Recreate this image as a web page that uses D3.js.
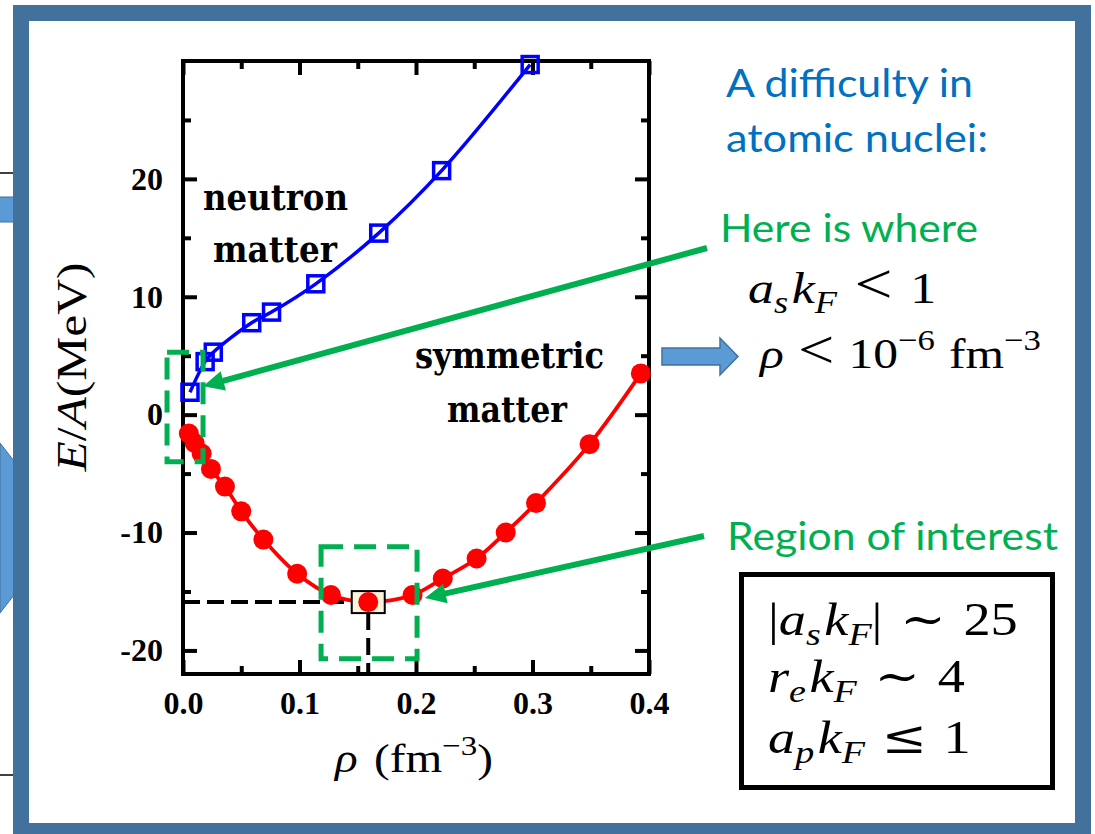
<!DOCTYPE html>
<html>
<head>
<meta charset="utf-8">
<script src="https://cdn.jsdelivr.net/npm/d3@7"></script>
<style>
body { margin: 0; background: #fff; }
svg { display: block; }
</style>
</head>
<body>
<svg id="fig" width="1095" height="834"></svg>
<script>
// Values
var neutronRho = [0.006, 0.019, 0.026, 0.059, 0.076, 0.114, 0.168, 0.222, 0.298]; // fm^-3
var neutronE = [1.9, 4.5, 5.3, 7.8, 8.7, 11.1, 15.4, 20.7, 29.7]; // MeV
var symRho = [0.005, 0.010, 0.016, 0.024, 0.036, 0.050, 0.069, 0.098, 0.127, 0.159, 0.197, 0.223, 0.252, 0.277, 0.303, 0.349, 0.393];
var symE = [-1.6, -2.4, -3.3, -4.6, -6.1, -8.2, -10.6, -13.5, -15.3, -15.9, -15.3, -13.9, -12.2, -10.0, -7.5, -2.5, 3.5];
var satRho = 0.159, satE = -15.9; // saturation point

var xMajor = [0, 0.1, 0.2, 0.3, 0.4];
var xMinor = [0.05, 0.15, 0.25, 0.35];
var yMajor = [-20, -10, 0, 10, 20];
var yMinor = [-15, -5, 5, 15, 25];

// dashed green boxes (data space): [rho0, rho1, E0, E1]
var lowBox = [-0.0137, 0.0172, -4.0, 5.3];
var roiBox = [0.1185, 0.2009, -20.7, -11.2];

var green = "#00B050";
var svg = d3.select("#fig");

var pLeft = 183, pRight = 649, pTop = 61, pBottom = 674;
var x = d3.scaleLinear().domain([0, 0.4]).range([pLeft, pRight]);
var y = d3.scaleLinear().domain([-22, 30]).range([pBottom, pTop]);

/* ******** bits of the slide behind the frame ******** */
svg.append("line").attr("x1", 0).attr("y1", 173).attr("x2", 13).attr("y2", 173)
  .attr("stroke", "#000").attr("stroke-width", 1.5);
svg.append("rect").attr("x", -2).attr("y", 197).attr("width", 16).attr("height", 25)
  .attr("fill", "#5B9BD5").attr("stroke", "#41719C").attr("stroke-width", 1);
svg.append("polygon").attr("points", "0,443 14,461 14,595 0,613")
  .attr("fill", "#5B9BD5").attr("stroke", "#41719C").attr("stroke-width", 1);
svg.append("line").attr("x1", 0).attr("y1", 775).attr("x2", 13).attr("y2", 775)
  .attr("stroke", "#000").attr("stroke-width", 1.5);

// slide frame
svg.append("rect").attr("x", 21).attr("y", 13).attr("width", 1062).attr("height", 818)
  .attr("fill", "none").attr("stroke", "#41719C").attr("stroke-width", 16);

/* ******** axes ******** */
function styleAxis(g) {
  g.select(".domain").remove();
  g.selectAll(".tick line").attr("stroke", "#000").attr("stroke-width", 4);
  g.selectAll("text").attr("font-family", "Liberation Serif").attr("font-weight", "bold")
    .attr("font-size", 32).attr("fill", "#000");
  return g;
}
svg.append("g").attr("transform", "translate(0," + pBottom + ")")
  .call(d3.axisBottom(x).tickValues(xMajor).tickSize(-14).tickPadding(17).tickFormat(d3.format(".1f")))
  .call(styleAxis);
svg.append("g").attr("transform", "translate(0," + pBottom + ")")
  .call(d3.axisBottom(x).tickValues(xMinor).tickSize(-8).tickFormat("")).call(styleAxis);
svg.append("g").attr("transform", "translate(0," + pTop + ")")
  .call(d3.axisTop(x).tickValues(xMajor).tickSize(-14).tickFormat("")).call(styleAxis);
svg.append("g").attr("transform", "translate(0," + pTop + ")")
  .call(d3.axisTop(x).tickValues(xMinor).tickSize(-8).tickFormat("")).call(styleAxis);
svg.append("g").attr("transform", "translate(" + pLeft + ",0)")
  .call(d3.axisLeft(y).tickValues(yMajor).tickSize(-14).tickPadding(20).tickFormat(function(d){ return String(d); }))
  .call(styleAxis);
svg.append("g").attr("transform", "translate(" + pLeft + ",0)")
  .call(d3.axisLeft(y).tickValues(yMinor).tickSize(-8).tickFormat("")).call(styleAxis);
svg.append("g").attr("transform", "translate(" + pRight + ",0)")
  .call(d3.axisRight(y).tickValues(yMajor).tickSize(-14).tickFormat("")).call(styleAxis);
svg.append("g").attr("transform", "translate(" + pRight + ",0)")
  .call(d3.axisRight(y).tickValues(yMinor).tickSize(-8).tickFormat("")).call(styleAxis);

svg.append("rect").attr("x", pLeft).attr("y", pTop).attr("width", pRight - pLeft).attr("height", pBottom - pTop)
  .attr("fill", "none").attr("stroke", "#000").attr("stroke-width", 4);

/* ******** data ******** */
var neutron = neutronRho.map(function(r, i){ return {x: r, y: neutronE[i]}; });
var sym = symRho.map(function(r, i){ return {x: r, y: symE[i]}; });
var line = d3.line().x(function(d){ return x(d.x); }).y(function(d){ return y(d.y); })
  .curve(d3.curveCatmullRom.alpha(0.5));

// saturation guides
svg.append("line").attr("x1", x(0)).attr("x2", x(satRho) - 17).attr("y1", y(satE)).attr("y2", y(satE))
  .attr("stroke", "#000").attr("stroke-width", 4).attr("stroke-dasharray", "17,7");
svg.append("line").attr("x1", x(satRho)).attr("x2", x(satRho)).attr("y1", y(satE) + 11).attr("y2", y(-22))
  .attr("stroke", "#000").attr("stroke-width", 4).attr("stroke-dasharray", "17,8");

svg.append("path").datum(neutron).attr("d", line).attr("fill", "none")
  .attr("stroke", "#0000FF").attr("stroke-width", 3.5);
svg.append("path").datum(sym).attr("d", line).attr("fill", "none")
  .attr("stroke", "#FF0000").attr("stroke-width", 3.8);

svg.append("rect").attr("x", x(satRho) - 16.5).attr("y", y(satE) - 11).attr("width", 33).attr("height", 22)
  .attr("fill", "#FCF3DC").attr("stroke", "#000").attr("stroke-width", 2);

svg.selectAll(".sq").data(neutron).enter().append("rect").attr("class", "sq")
  .attr("x", function(d){ return x(d.x) - 8; }).attr("y", function(d){ return y(d.y) - 8; })
  .attr("width", 16).attr("height", 16).attr("fill", "none")
  .attr("stroke", "#0000FF").attr("stroke-width", 3.5);
svg.selectAll(".dot").data(sym).enter().append("circle").attr("class", "dot")
  .attr("cx", function(d){ return x(d.x); }).attr("cy", function(d){ return y(d.y); })
  .attr("r", 10).attr("fill", "#FF0000");

/* ******** labels in the plot ******** */
function boldLabel(txt, xp, yp, len) {
  svg.append("text").attr("x", xp).attr("y", yp).attr("font-family", "DejaVu Serif")
    .attr("font-weight", "bold").attr("font-size", 35).attr("fill", "#000")
    .attr("textLength", len).attr("lengthAdjust", "spacingAndGlyphs").text(txt);
}
boldLabel("neutron", 203, 210, 145);
boldLabel("matter", 213, 262, 124);
boldLabel("symmetric", 415, 368, 189);
boldLabel("matter", 447, 422, 120);

// math-like text helper: parts are [text, kind, dx]; glyphs stretched sideways like Computer Modern
var relScale = {"<": 1.3};
function mathText(xp, yp, size, parts, parent, rot) {
  var g = (parent || svg).append("g")
    .attr("transform", "translate(" + xp + "," + yp + ")" + (rot ? " rotate(" + rot + ")" : "") + " scale(1.18,1)");
  var t = g.append("text").attr("font-family", "Liberation Serif, DejaVu Serif")
    .attr("font-size", size).attr("fill", "#000");
  var off = 0;
  parts.forEach(function(p){
    var s = p[1] == "sub" ? size * 0.22 : (p[1] == "sup" ? -size * 0.42 : 0);
    var ts = t.append("tspan").attr("dy", s - off).text(p[0]);
    off = s;
    if (p[1] == "sub" || p[1] == "sup") ts.attr("font-size", size * 0.7);
    if (p[1] == "i" || p[1] == "sub") ts.attr("font-style", "italic");
    if (p[1] == "rel") {
      if (relScale[p[0]]) ts.attr("font-size", size * relScale[p[0]]);
      else ts.attr("font-family", "DejaVu Serif");
    }
    if (p[2]) ts.attr("dx", p[2]);
  });
  return t;
}

// axis titles
mathText(86, 367, 42, [["E", "i"], ["/", "r"], ["A", "i"], ["(MeV)", "r"]], null, -90).attr("text-anchor", "middle");
mathText(414, 772, 40, [["ρ", "i"], ["(fm", "r", 14], ["−3", "sup"], [")", "r"]]).attr("text-anchor", "middle");

/* ******** annotations ******** */
function dashBox(b) {
  svg.append("rect").attr("x", x(b[0])).attr("y", y(b[3]))
    .attr("width", x(b[1]) - x(b[0])).attr("height", y(b[2]) - y(b[3]))
    .attr("fill", "none").attr("stroke", green).attr("stroke-width", 5)
    .attr("stroke-dasharray", "22,11");
}
dashBox(lowBox);
dashBox(roiBox);

function greenArrow(x1, y1, x2, y2) {
  var dx = x2 - x1, dy = y2 - y1, L = Math.sqrt(dx * dx + dy * dy), ux = dx / L, uy = dy / L;
  var hl = 21, hw = 10;
  var bx = x2 - ux * hl, by = y2 - uy * hl;
  svg.append("line").attr("x1", x1).attr("y1", y1).attr("x2", bx + ux * 3).attr("y2", by + uy * 3)
    .attr("stroke", green).attr("stroke-width", 6);
  svg.append("polygon").attr("points", [[x2, y2], [bx - uy * hw, by + ux * hw], [bx + uy * hw, by - ux * hw]].join(" "))
    .attr("fill", green);
}
greenArrow(707, 248, x(0.0172), y(2.4));
greenArrow(704, 536, x(0.2077), y(-15.55));

// block arrow
svg.append("polygon").attr("points", "662,348 720,348 720,338 738,356.5 720,375 720,365 662,365")
  .attr("fill", "#5B9BD5").attr("stroke", "#41719C").attr("stroke-width", 1.5);

function slideText(txt, xp, yp, col, len) {
  svg.append("text").attr("x", xp).attr("y", yp).attr("font-family", "Lato, Carlito, sans-serif")
    .attr("font-size", 39).attr("fill", col).attr("textLength", len)
    .attr("lengthAdjust", "spacingAndGlyphs").text(txt);
}
slideText("A difficulty in", 726, 97, "#0070C0", 247);
slideText("atomic nuclei:", 726, 152, "#0070C0", 262);
slideText("Here is where", 720, 242, green, 258);
slideText("Region of interest", 727, 550, green, 331);

mathText(748, 303, 44, [["a", "i"], ["s", "sub"], ["k", "i", 3], ["F", "sub"], ["<", "rel", 15], ["1", "r", 15]]);
mathText(760, 368, 42, [["ρ", "i"], ["<", "rel", 12], ["10", "r", 12], ["−6", "sup"], ["fm", "r", 12], ["−3", "sup"]]);

svg.append("rect").attr("x", 741.5).attr("y", 574.5).attr("width", 311).attr("height", 213)
  .attr("fill", "none").attr("stroke", "#000").attr("stroke-width", 5);
mathText(768, 635, 46, [["|", "r"], ["a", "i"], ["s", "sub"], ["k", "i", 3], ["F", "sub"], ["|", "r"], ["∼", "rel", 15], ["25", "r", 15]]);
mathText(768, 692, 46, [["r", "i"], ["e", "sub"], ["k", "i", 3], ["F", "sub"], ["∼", "rel", 15], ["4", "r", 15]]);
mathText(768, 753, 46, [["a", "i"], ["p", "sub"], ["k", "i", 3], ["F", "sub"], ["≤", "rel", 14], ["1", "r", 14]]);
</script>
</body>
</html>
